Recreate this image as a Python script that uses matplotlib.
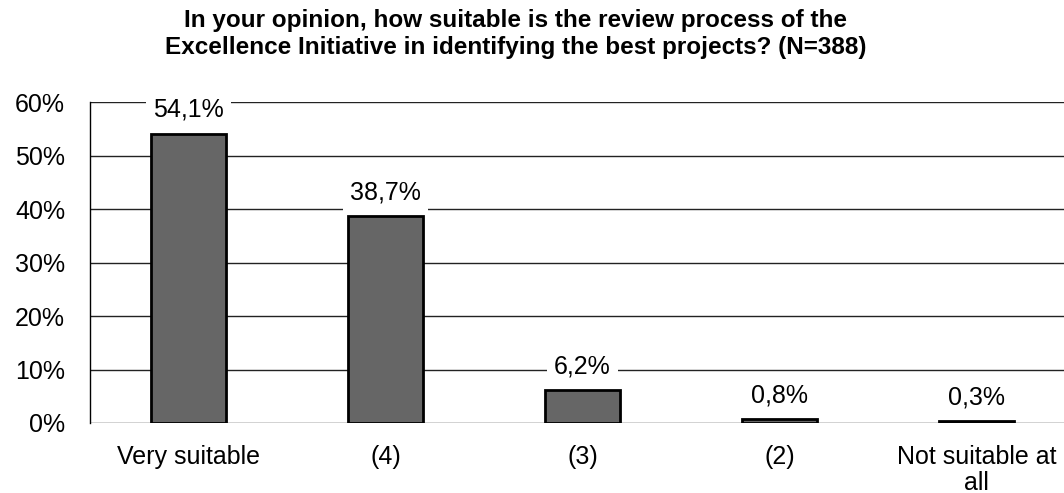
import matplotlib
matplotlib.use("Agg")
import matplotlib.pyplot as plt

categories = ["Very suitable", "(4)", "(3)", "(2)", "Not suitable at\nall"]
values = [54.1, 38.7, 6.2, 0.8, 0.3]
value_labels = ["54,1%", "38,7%", "6,2%", "0,8%", "0,3%"]
yticks = [0, 10, 20, 30, 40, 50, 60]
ytick_labels = ["0%", "10%", "20%", "30%", "40%", "50%", "60%"]

plt.rcParams['font.family'] = ['Liberation Sans', 'DejaVu Sans']

W, H = 1064, 493
fig = plt.figure(figsize=(W/100, H/100), dpi=100)
left, right = 90, 1075
top, bottom = 102, 423
ax = fig.add_axes([left/W, 1 - bottom/H, (right-left)/W, (bottom-top)/H])

x = range(len(categories))
ax.bar(x, values, width=0.38, color="#666666", edgecolor="black", linewidth=2, zorder=3)
ax.set_xlim(-0.5, len(categories) - 0.5)
ax.set_ylim(0, 60)
ax.set_yticks(yticks)
ax.set_yticklabels(ytick_labels, fontsize=18)
ax.set_xticks(list(x))
ax.set_xticklabels(categories, fontsize=18, linespacing=1.1)
ax.tick_params(axis='x', length=0, pad=16)
ax.tick_params(axis='y', length=0, pad=18)
ax.grid(axis='y', color='#222222', linewidth=1, zorder=0)
for s in ['top', 'right', 'bottom']:
    ax.spines[s].set_visible(False)
ax.spines['left'].set_color('black')
ax.spines['left'].set_linewidth(1)

for xi, v, lab in zip(x, values, value_labels):
    ax.annotate(lab, (xi, v), xytext=(0, 17), textcoords='offset points',
                ha='center', va='center', fontsize=18, zorder=4,
                bbox=dict(boxstyle='square,pad=0.3', fc='white', ec='none'))

fig.text(516/W, 1 - 34/H,
         "In your opinion, how suitable is the review process of the\nExcellence Initiative in identifying the best projects? (N=388)",
         ha='center', va='center', fontsize=17.5, fontweight='bold', linespacing=1.2)

fig.savefig("out.png", dpi=100)
